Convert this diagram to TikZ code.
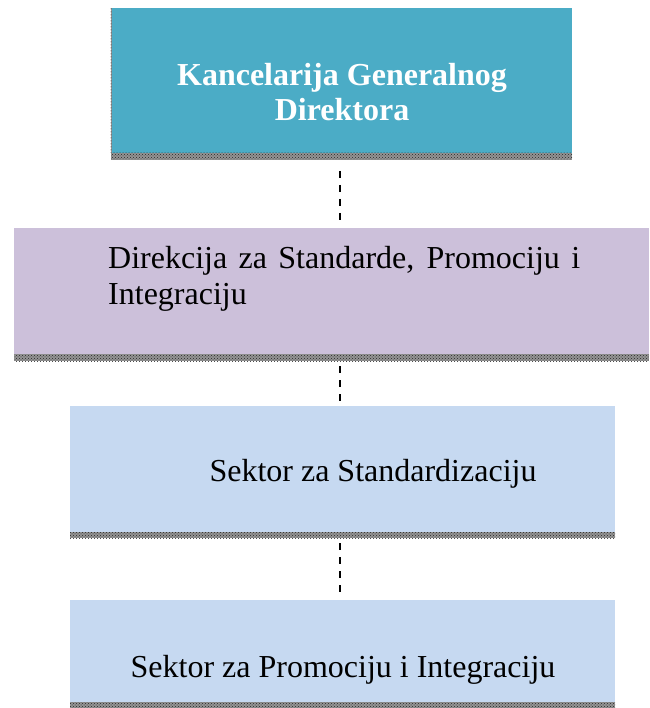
\documentclass[tikz,border=0pt]{standalone}
\usepackage{fontspec}
\setmainfont{Liberation Serif}
\usetikzlibrary{patterns}
\definecolor{teal1}{HTML}{4BACC6}
\definecolor{lilac1}{HTML}{CCC0DA}
\definecolor{sky1}{HTML}{C6D9F1}
\tikzset{
  boxshape/.style={rectangle, draw=none, inner sep=0pt, outer sep=0pt, anchor=north west},
  shadowband/.style={rectangle, draw=none, inner sep=0pt, outer sep=0pt, anchor=north west,
     fill=black!42, postaction={pattern=crosshatch dots, pattern color=black!85}},
  lbl/.style={inner sep=0pt, anchor=base, font=\fontsize{32}{37}\selectfont},
  conn/.style={line width=2pt, dash pattern=on 7pt off 7pt, black},
}
\begin{document}
\begin{tikzpicture}[x=1pt,y=-1pt]
\useasboundingbox (0,0) rectangle (649,708);
% box 1
\node[boxshape, fill=teal1, minimum width=461pt, minimum height=145pt] (b1) at (111,8) {};
\node[shadowband, minimum width=461pt, minimum height=7pt] (b1s) at (111,153) {};
\node[shadowband, minimum width=1.2pt, minimum height=145pt] (b1l) at (110.5,8) {};
\node[lbl, text=white, font=\fontsize{32}{37}\selectfont\bfseries] (t1a) at (342,86) {Kancelarija Generalnog};
\node[lbl, text=white, font=\fontsize{32}{37}\selectfont\bfseries] (t1b) at (342,121) {Direktora};
% box 2
\node[boxshape, fill=lilac1, minimum width=635pt, minimum height=126pt] (b2) at (14,228) {};
\node[shadowband, minimum width=635pt, minimum height=7pt] (b2s) at (14,354) {};
\node[lbl, anchor=base west] (t2a) at (108,269) {\hbox to 472pt{Direkcija za Standarde, Promociju i}};
\node[lbl, anchor=base west] (t2b) at (108,304) {Integraciju};
% box 3
\node[boxshape, fill=sky1, minimum width=545pt, minimum height=126pt] (b3) at (70,406) {};
\node[shadowband, minimum width=545pt, minimum height=6pt] (b3s) at (70,532) {};
\node[lbl] (t3) at (373,481) {Sektor za Standardizaciju};
% box 4
\node[boxshape, fill=sky1, minimum width=545pt, minimum height=102pt] (b4) at (70,600) {};
\node[shadowband, minimum width=545pt, minimum height=6pt] (b4s) at (70,702) {};
\node[lbl] (t4) at (343,677) {Sektor za Promociju i Integraciju};
% connectors
\coordinate (c1a) at (340,160);
\coordinate (c1b) at (340,228);
\coordinate (c2a) at (340,361);
\coordinate (c2b) at (340,406);
\coordinate (c3a) at (340,538);
\coordinate (c3b) at (340,600);
\draw[conn, shorten <=11pt, shorten >=6pt] (c1a) -- (c1b);
\draw[conn, shorten <=5pt, shorten >=5pt] (c2a) -- (c2b);
\draw[conn, shorten <=5pt, shorten >=5pt] (c3a) -- (c3b);
\end{tikzpicture}
\end{document}
